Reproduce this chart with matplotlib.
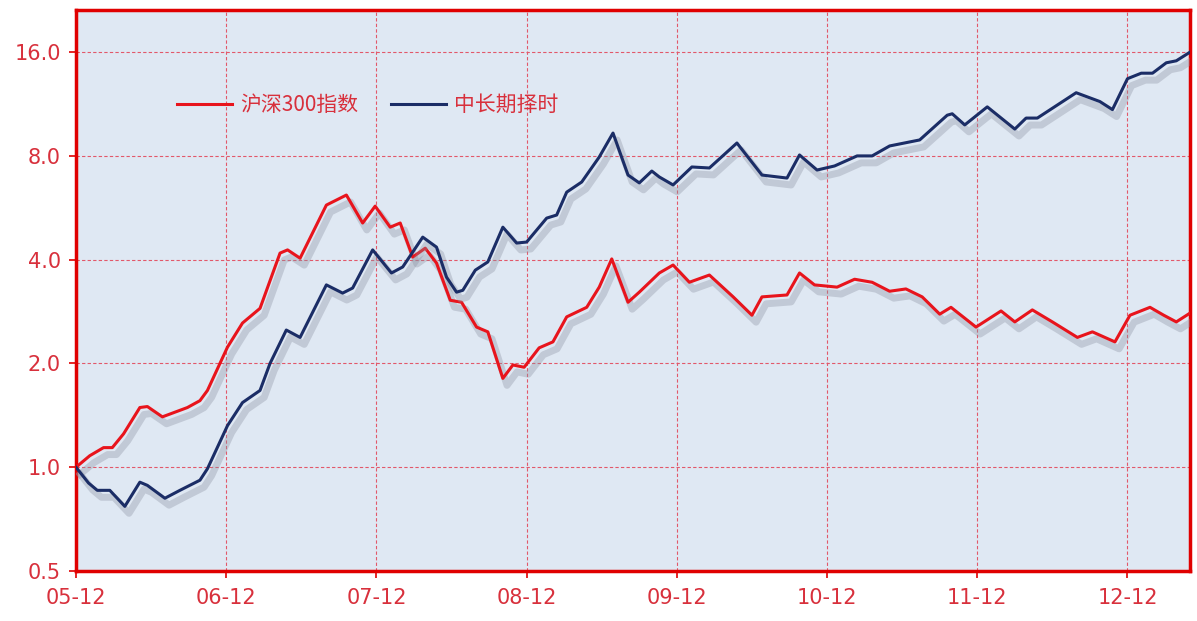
import matplotlib.pyplot as plt
import matplotlib.patheffects as pe
from matplotlib.ticker import FixedLocator, NullLocator

plt.rcParams['font.family'] = ['Noto Sans CJK SC', 'DejaVu Sans']

# months since 2005-12
red_m = [0, 1.1, 2.2, 2.9, 3.8, 5.1, 5.7, 6.9, 8.9, 9.9, 10.5, 12.1, 13.3, 14.7, 16.3, 16.9,
         17.9, 20.0, 21.6, 22.9, 23.9, 25.1, 25.9, 26.9, 27.9, 28.8, 29.9, 30.8, 32.0, 32.9,
         34.1, 34.9, 35.8, 37.0, 38.1, 39.2, 40.8, 41.8, 42.8, 44.1, 45.0, 46.6, 47.7, 49.0,
         50.6, 52.5, 54.0, 54.8, 56.8, 57.8, 59.0, 60.8, 62.2, 63.6, 65.0, 66.3, 67.6, 69.0,
         69.9, 71.9, 73.9, 75.0, 76.4, 78.0, 80.0, 81.2, 83.0, 84.2, 85.8, 86.9, 87.9, 89.0]
red_v = [1.00, 1.08, 1.14, 1.14, 1.25, 1.49, 1.50, 1.40, 1.49, 1.56, 1.67, 2.23, 2.62, 2.89, 4.18, 4.27,
         4.04, 5.76, 6.16, 5.11, 5.72, 4.97, 5.11, 4.07, 4.32, 3.91, 3.05, 3.01, 2.55, 2.47,
         1.81, 1.98, 1.95, 2.22, 2.31, 2.73, 2.91, 3.33, 4.02, 3.01, 3.22, 3.66, 3.86, 3.44,
         3.61, 3.12, 2.76, 3.12, 3.16, 3.66, 3.38, 3.33, 3.51, 3.44, 3.24, 3.29, 3.12, 2.78,
         2.91, 2.55, 2.84, 2.64, 2.86, 2.64, 2.38, 2.47, 2.31, 2.76, 2.91, 2.76, 2.64, 2.80]

blue_m = [0, 1.0, 1.7, 2.7, 3.9, 5.1, 5.7, 7.1, 8.3, 9.9, 10.5, 12.1, 13.3, 14.7, 15.5, 16.8,
          17.9, 20.0, 21.3, 22.1, 23.7, 25.2, 26.1, 27.7, 28.8, 29.6, 30.4, 30.9, 31.9, 32.9,
          34.1, 35.2, 36.0, 37.6, 38.4, 39.2, 40.4, 41.8, 42.9, 44.1, 45.0, 46.0, 46.6, 47.7,
          49.2, 50.6, 52.8, 54.8, 56.8, 57.8, 59.2, 60.6, 62.4, 63.6, 65.0, 67.4, 69.6, 70.0,
          71.0, 72.8, 75.0, 75.9, 76.8, 79.9, 81.8, 82.8, 84.0, 85.1, 86.0, 87.1, 87.9, 89.0]
blue_v = [1.00, 0.90, 0.857, 0.857, 0.77, 0.905, 0.886, 0.813, 0.857, 0.917, 0.99, 1.32, 1.54, 1.67, 2.00, 2.50,
          2.38, 3.38, 3.20, 3.31, 4.27, 3.66, 3.81, 4.65, 4.35, 3.56, 3.22, 3.26, 3.73, 3.94,
          4.97, 4.47, 4.50, 5.28, 5.39, 6.28, 6.72, 7.94, 9.32, 7.04, 6.68, 7.23, 6.95, 6.59,
          7.43, 7.38, 8.72, 7.04, 6.90, 8.05, 7.28, 7.48, 8.0, 8.0, 8.55, 8.90, 10.5, 10.6,
          9.84, 11.1, 9.57, 10.3, 10.3, 12.2, 11.5, 10.9, 13.4, 13.9, 13.9, 14.9, 15.1, 16.0]

x_ticks = [0, 12, 24, 36, 48, 60, 72, 84]
x_labels = ['05-12', '06-12', '07-12', '08-12', '09-12', '10-12', '11-12', '12-12']
y_ticks = [0.5, 1.0, 2.0, 4.0, 8.0, 16.0]
y_labels = ['0.5', '1.0', '2.0', '4.0', '8.0', '16.0']

red = '#e8141c'
blue = '#1b2d66'
txt = '#d8303c'

fig = plt.figure(figsize=(11.97, 6.21), dpi=100)
ax = fig.add_axes([0.0635, 0.0805, 0.9307, 0.9034])
ax.set_facecolor('#dfe8f3')

shadow = [pe.SimpleLineShadow(offset=(3, -5), shadow_color='#8a90a0', alpha=0.35, linewidth=5),
          pe.Normal()]
ax.plot(red_m, red_v, color=red, lw=2.2, label='沪深300指数', path_effects=shadow, zorder=3)
ax.plot(blue_m, blue_v, color=blue, lw=2.2, label='中长期择时', path_effects=shadow, zorder=3)

ax.set_yscale('log', base=2)
ax.set_ylim(0.5, 21.2)
ax.set_xlim(0, 89.0)
ax.yaxis.set_major_locator(FixedLocator(y_ticks))
ax.yaxis.set_minor_locator(NullLocator())
ax.set_yticklabels(y_labels)
ax.set_xticks(x_ticks)
ax.set_xticklabels(x_labels)

ax.grid(True, color='#e2586a', lw=0.8, linestyle=(0, (3, 2)))
ax.set_axisbelow(True)
for s in ax.spines.values():
    s.set_color('#e00000')
    s.set_linewidth(2.5)

ax.tick_params(axis='both', colors='#e00000', labelcolor=txt, length=5, width=1.2,
               labelsize=15, direction='out')
ax.tick_params(axis='x', pad=7)
ax.tick_params(axis='y', pad=6)
for lab in ax.get_xticklabels() + ax.get_yticklabels():
    lab.set_family('DejaVu Sans')

leg = ax.legend(loc='center', bbox_to_anchor=(0.262, 0.831), ncol=2, frameon=False,
                handlelength=2.6, columnspacing=1.6, handletextpad=0.4,
                prop={'family': ['Noto Sans CJK SC', 'DejaVu Sans'], 'size': 15}, labelcolor=txt)
for h in leg.get_lines():
    h.set_path_effects([])

fig.savefig('out.png', dpi=100)
